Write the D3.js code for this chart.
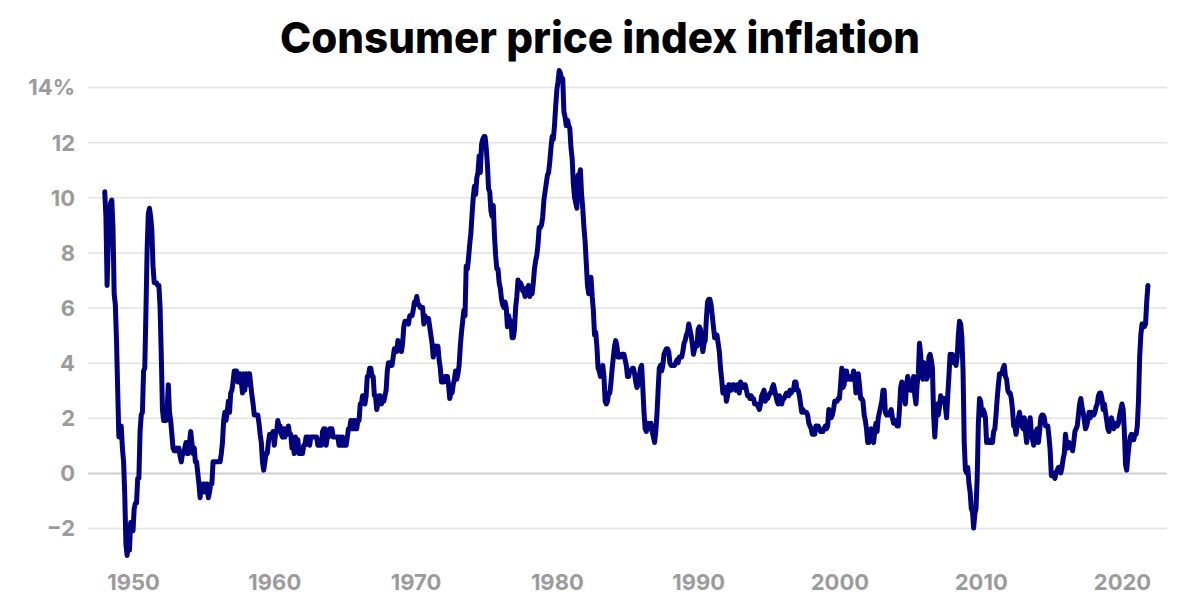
<!DOCTYPE html>
<html>
<head>
<meta charset="utf-8">
<script src="https://cdn.jsdelivr.net/npm/d3@7"></script>
<style>
  body { margin: 0; background: #fff; }
  svg { display: block; font-family: Inter, "Noto Sans", sans-serif; }
</style>
</head>
<body>
<svg id="chart" width="1200" height="600"></svg>
<script>
// monthly CPI-U, year over year %, Jan 1948 .. Nov 2021
var startYear = 1948;
var cpiInflation = [
  10.2, 9.3, 6.8, 8.3, 9.4, 9.8, 9.9, 8.9, 6.5, 6.1, 4.8, 3.0,   // 1948
  1.3, 1.3, 1.7, 0.9, 0.4, -0.8, -2.6, -3.0, -2.5, -2.8, -1.8, -2.1,   // 1949
  -2.1, -1.3, -1.1, -1.1, -0.2, -0.2, 1.5, 2.1, 2.2, 3.7, 3.8, 5.9,   // 1950
  8.1, 9.4, 9.6, 9.3, 8.8, 7.5, 6.9, 6.9, 6.9, 6.8, 6.8, 6.0,   // 1951
  4.3, 2.3, 1.9, 2.3, 1.9, 2.3, 3.2, 2.2, 1.9, 1.4, 0.9, 0.8,   // 1952
  0.8, 0.9, 0.8, 0.9, 0.6, 0.4, 0.7, 0.7, 0.9, 1.1, 0.7, 0.7,   // 1953
  1.1, 1.5, 1.1, 0.7, 0.9, 0.4, 0.4, 0.0, -0.4, -0.9, -0.4, -0.7,   // 1954
  -0.4, -0.4, -0.7, -0.4, -0.9, -0.7, -0.4, -0.4, 0.4, 0.4, 0.4, 0.4,   // 1955
  0.4, 0.4, 0.4, 0.7, 1.1, 1.9, 2.2, 1.9, 2.2, 2.6, 2.2, 2.9,   // 1956
  3.0, 3.3, 3.7, 3.7, 3.7, 3.3, 3.3, 3.6, 3.3, 2.9, 3.6, 3.0,   // 1957
  3.6, 3.2, 3.6, 3.6, 3.2, 2.8, 2.5, 2.1, 2.1, 2.1, 2.1, 1.8,   // 1958
  1.4, 1.1, 0.4, 0.1, 0.4, 0.7, 0.7, 1.1, 1.4, 1.4, 1.3, 1.5,   // 1959
  1.0, 1.4, 1.5, 1.9, 1.7, 1.7, 1.4, 1.3, 1.6, 1.3, 1.6, 1.4,   // 1960
  1.7, 1.4, 1.4, 0.9, 1.0, 0.7, 1.3, 1.0, 1.2, 0.7, 0.7, 0.7,   // 1961
  0.7, 1.0, 1.0, 1.3, 1.3, 1.3, 1.0, 1.3, 1.3, 1.3, 1.3, 1.3,   // 1962
  1.3, 1.0, 1.0, 1.0, 1.0, 1.5, 1.6, 1.6, 1.0, 1.3, 1.3, 1.6,   // 1963
  1.6, 1.6, 1.3, 1.3, 1.3, 1.3, 1.3, 1.0, 1.3, 1.0, 1.3, 1.0,   // 1964
  1.0, 1.0, 1.3, 1.6, 1.6, 1.9, 1.6, 1.9, 1.6, 1.9, 1.6, 1.9,   // 1965
  1.9, 2.5, 2.5, 2.8, 2.8, 2.5, 2.8, 3.5, 3.5, 3.8, 3.8, 3.5,   // 1966
  3.5, 2.8, 2.8, 2.3, 2.5, 2.8, 2.8, 2.5, 2.6, 2.6, 2.8, 3.0,   // 1967
  3.7, 4.0, 4.0, 3.9, 3.9, 4.2, 4.5, 4.4, 4.4, 4.8, 4.7, 4.7,   // 1968
  4.4, 4.7, 5.3, 5.5, 5.5, 5.5, 5.4, 5.7, 5.7, 5.7, 5.9, 6.2,   // 1969
  6.2, 6.4, 6.1, 6.1, 6.0, 6.0, 6.0, 5.4, 5.7, 5.6, 5.6, 5.6,   // 1970
  5.3, 5.0, 4.7, 4.2, 4.4, 4.6, 4.4, 4.6, 4.1, 3.8, 3.3, 3.3,   // 1971
  3.3, 3.5, 3.5, 3.5, 3.2, 2.7, 2.9, 2.9, 3.2, 3.4, 3.7, 3.4,   // 1972
  3.6, 3.9, 4.6, 5.1, 5.5, 5.9, 5.7, 7.5, 7.4, 7.8, 8.3, 8.7,   // 1973
  9.4, 10.0, 10.4, 10.1, 10.7, 10.9, 11.5, 10.9, 11.9, 12.1, 12.2, 12.2,   // 1974
  11.8, 11.2, 10.3, 10.2, 9.5, 9.3, 9.7, 8.6, 7.9, 7.4, 7.4, 6.9,   // 1975
  6.7, 6.3, 6.1, 6.0, 6.2, 6.0, 5.3, 5.7, 5.5, 5.5, 4.9, 4.9,   // 1976
  5.2, 6.0, 6.4, 7.0, 6.7, 6.9, 6.8, 6.6, 6.6, 6.4, 6.7, 6.7,   // 1977
  6.8, 6.4, 6.6, 6.5, 6.9, 7.4, 7.7, 7.9, 8.3, 8.9, 8.9, 9.0,   // 1978
  9.3, 9.9, 10.2, 10.5, 10.8, 10.9, 11.3, 11.8, 12.2, 12.1, 12.6, 13.3,   // 1979
  13.9, 14.2, 14.6, 14.5, 14.3, 14.3, 13.1, 12.9, 12.6, 12.8, 12.6, 12.5,   // 1980
  11.8, 11.4, 10.5, 10.0, 9.8, 9.6, 10.8, 10.8, 11.0, 10.1, 9.6, 8.9,   // 1981
  8.4, 7.6, 6.8, 6.5, 6.7, 7.1, 6.4, 5.9, 5.0, 5.1, 4.6, 3.8,   // 1982
  3.7, 3.5, 3.6, 3.9, 3.5, 2.6, 2.5, 2.6, 2.9, 2.9, 3.3, 3.8,   // 1983
  4.2, 4.6, 4.8, 4.6, 4.2, 4.2, 4.2, 4.3, 4.3, 4.3, 4.1, 3.9,   // 1984
  3.5, 3.5, 3.7, 3.7, 3.8, 3.8, 3.6, 3.3, 3.1, 3.2, 3.5, 3.8,   // 1985
  3.9, 3.1, 2.2, 1.6, 1.5, 1.8, 1.6, 1.6, 1.8, 1.5, 1.3, 1.1,   // 1986
  1.5, 2.1, 3.0, 3.8, 3.9, 3.7, 3.9, 4.3, 4.4, 4.5, 4.5, 4.4,   // 1987
  4.0, 3.9, 3.9, 3.9, 3.9, 4.0, 4.1, 4.0, 4.2, 4.2, 4.2, 4.4,   // 1988
  4.7, 4.8, 5.0, 5.1, 5.4, 5.2, 5.0, 4.7, 4.3, 4.5, 4.7, 4.6,   // 1989
  5.2, 5.3, 5.2, 4.7, 4.4, 4.7, 4.8, 5.6, 6.2, 6.3, 6.3, 6.1,   // 1990
  5.7, 5.3, 4.9, 4.9, 5.0, 4.7, 4.4, 3.8, 3.4, 2.9, 3.0, 3.1,   // 1991
  2.6, 2.8, 3.2, 3.2, 3.0, 3.1, 3.2, 3.1, 3.0, 3.2, 3.0, 2.9,   // 1992
  3.3, 3.2, 3.1, 3.2, 3.2, 3.0, 2.8, 2.8, 2.7, 2.8, 2.7, 2.7,   // 1993
  2.5, 2.5, 2.5, 2.4, 2.3, 2.5, 2.8, 2.9, 3.0, 2.6, 2.7, 2.7,   // 1994
  2.8, 2.9, 2.9, 3.1, 3.2, 3.0, 2.8, 2.6, 2.5, 2.8, 2.6, 2.5,   // 1995
  2.7, 2.7, 2.8, 2.9, 2.9, 2.8, 3.0, 2.9, 3.0, 3.0, 3.3, 3.3,   // 1996
  3.0, 3.0, 2.8, 2.5, 2.2, 2.3, 2.2, 2.2, 2.2, 2.1, 1.8, 1.7,   // 1997
  1.6, 1.4, 1.4, 1.4, 1.7, 1.7, 1.7, 1.6, 1.5, 1.5, 1.5, 1.6,   // 1998
  1.7, 1.6, 1.7, 2.3, 2.1, 2.0, 2.1, 2.3, 2.6, 2.6, 2.6, 2.7,   // 1999
  2.7, 3.2, 3.8, 3.1, 3.2, 3.7, 3.7, 3.4, 3.5, 3.4, 3.4, 3.4,   // 2000
  3.7, 3.5, 2.9, 3.3, 3.6, 3.2, 2.7, 2.7, 2.6, 2.1, 1.9, 1.6,   // 2001
  1.1, 1.1, 1.5, 1.6, 1.2, 1.1, 1.5, 1.8, 1.5, 2.0, 2.2, 2.4,   // 2002
  2.6, 3.0, 3.0, 2.2, 2.1, 2.1, 2.1, 2.2, 2.3, 2.0, 1.8, 1.9,   // 2003
  1.9, 1.7, 1.7, 2.3, 3.1, 3.3, 3.0, 2.7, 2.5, 3.2, 3.5, 3.3,   // 2004
  3.0, 3.0, 3.1, 3.5, 2.8, 2.5, 3.2, 3.6, 4.7, 4.3, 3.5, 3.4,   // 2005
  4.0, 3.6, 3.4, 3.5, 4.2, 4.3, 4.1, 3.8, 2.1, 1.3, 2.0, 2.5,   // 2006
  2.1, 2.4, 2.8, 2.6, 2.7, 2.7, 2.4, 2.0, 2.8, 3.5, 4.3, 4.1,   // 2007
  4.3, 4.0, 4.0, 3.9, 4.2, 5.0, 5.5, 5.4, 4.9, 3.7, 1.1, 0.1,   // 2008
  0.0, 0.2, -0.4, -0.7, -1.3, -1.4, -2.0, -1.5, -1.3, -0.2, 1.8, 2.7,   // 2009
  2.6, 2.1, 2.3, 2.2, 2.0, 1.1, 1.2, 1.1, 1.1, 1.2, 1.1, 1.5,   // 2010
  1.6, 2.1, 2.7, 3.2, 3.6, 3.6, 3.6, 3.8, 3.9, 3.5, 3.4, 3.0,   // 2011
  2.9, 2.9, 2.7, 2.3, 1.7, 1.7, 1.4, 1.7, 2.0, 2.2, 1.8, 1.7,   // 2012
  1.6, 2.0, 1.5, 1.1, 1.4, 1.8, 2.0, 1.5, 1.2, 1.0, 1.2, 1.5,   // 2013
  1.6, 1.1, 1.5, 2.0, 2.1, 2.1, 2.0, 1.7, 1.7, 1.7, 1.3, 0.8,   // 2014
  -0.1, 0.0, -0.1, -0.2, 0.0, 0.1, 0.2, 0.2, 0.0, 0.2, 0.5, 0.7,   // 2015
  1.4, 1.0, 0.9, 1.1, 1.0, 1.0, 0.8, 1.1, 1.5, 1.6, 1.7, 2.1,   // 2016
  2.5, 2.7, 2.4, 2.2, 1.9, 1.6, 1.7, 1.9, 2.2, 2.0, 2.2, 2.1,   // 2017
  2.1, 2.2, 2.4, 2.5, 2.8, 2.9, 2.9, 2.7, 2.3, 2.5, 2.2, 1.9,   // 2018
  1.6, 1.5, 1.9, 2.0, 1.8, 1.6, 1.8, 1.7, 1.7, 1.8, 2.1, 2.3,   // 2019
  2.5, 2.3, 1.5, 0.3, 0.1, 0.6, 1.0, 1.3, 1.4, 1.2, 1.2, 1.4,   // 2020
  1.4, 1.7, 2.6, 4.2, 5.0, 5.4, 5.4, 5.3, 5.4, 6.2, 6.8         // 2021
];

var yTicks = [-2, 0, 2, 4, 6, 8, 10, 12, 14];
var xTicks = [1950, 1960, 1970, 1980, 1990, 2000, 2010, 2020];
var title = "Consumer price index inflation";

var series = cpiInflation.map((v, i) => ({date: startYear + i / 12, value: v}));

var svg = d3.select("#chart");
var gridLeft = 88, gridRight = 1167;

var x = d3.scaleLinear().domain([1950, 2020]).range([133, 1122]);
var y = d3.scaleLinear().domain([-2, 14]).range([528, 87]);

/* title */
svg.append("text")
    .attr("x", 600)
    .attr("y", 53)
    .attr("text-anchor", "middle")
    .attr("textLength", 640)
    .attr("lengthAdjust", "spacingAndGlyphs")
    .style("font-size", "43px")
    .style("font-weight", 800)
    .style("fill", "#000")
    .text(title);

/* y axis with gridlines */
var yAxis = svg.append("g")
    .attr("transform", `translate(${gridLeft},0)`)
    .call(d3.axisLeft(y)
        .tickValues(yTicks)
        .tickSize(-(gridRight - gridLeft))
        .tickPadding(13)
        .tickFormat(d => (d < 0 ? "\u2212" + Math.abs(d) : d) + (d == 14 ? "%" : "")));
yAxis.select(".domain").remove();
yAxis.selectAll(".tick line")
    .attr("stroke", d => d == 0 ? "#cfcfcf" : "#e3e3e3")
    .attr("stroke-width", d => d == 0 ? 2 : 1.5);
yAxis.selectAll(".tick text")
    .attr("dy", "0.36em")
    .style("font-family", "Inter, sans-serif")
    .style("font-size", "22px")
    .style("font-weight", 700)
    .style("fill", "#9b9b9b");

/* x axis, labels only */
var xAxis = svg.append("g")
    .attr("transform", "translate(0,574)")
    .call(d3.axisBottom(x)
        .tickValues(xTicks)
        .tickSize(0)
        .tickPadding(0)
        .tickFormat(d3.format("d")));
xAxis.select(".domain").remove();
xAxis.selectAll(".tick text")
    .style("font-family", "Inter, sans-serif")
    .style("font-size", "22px")
    .style("font-weight", 700)
    .style("fill", "#9b9b9b");

/* the line */
var line = d3.line()
    .x(d => x(d.date))
    .y(d => y(d.value));

svg.append("path")
    .datum(series)
    .attr("d", line)
    .attr("fill", "none")
    .attr("stroke", "#02027d")
    .attr("stroke-width", 5)
    .attr("stroke-linejoin", "round")
    .attr("stroke-linecap", "round");
</script>
</body>
</html>
